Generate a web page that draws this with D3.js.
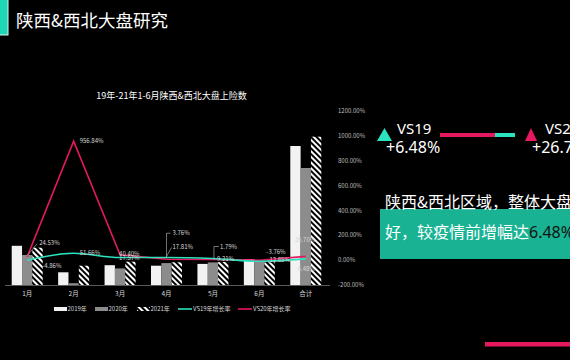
<!DOCTYPE html>
<html>
<head>
<meta charset="utf-8">
<script src="https://cdn.jsdelivr.net/npm/d3@7"></script>
<style>
  body { margin: 0; background: #000; overflow: hidden; }
  svg { display: block; font-family: "Noto Sans CJK SC", "Noto Sans", sans-serif; }
</style>
</head>
<body>
<svg id="chart" width="570" height="360"></svg>
<script>
// chart data
const months = ['1月', '2月', '3月', '4月', '5月', '6月', '合计'];
const cars2019 = [3920, 1270, 1980, 1930, 2110, 2600, 13900];
const cars2020 = [3000, 180, 1660, 2190, 2260, 2360, 11700];
const cars2021 = [3730, 1930, 2330, 2270, 2300, 2270, 14830];
const growthVs19 = [-4.86, 51.66, 17.57, 17.81, 9.21, -12.85, 6.48];
const growthVs20 = [24.53, 956.84, 40.40, 3.76, 1.79, -3.76, 26.70];
const rightTicks = [-200, 0, 200, 400, 600, 800, 1000, 1200];
const seriesNames = ['2019年', '2020年', '2021年', 'VS19年增长率', 'VS20年增长率'];

const teal = '#2ce3bf';
const pink = '#e5195f';

// where excel pushed the data labels (dx, dy from the point)
const nudge19 = [[15, 5.5], [6, 0], [-1, 0], [6, -11], [4, 0], [8, -1], [-8, 10]];
const nudge20 = [[12, -14], [6, 0], [-1, -1], [6, -26], [7, -13], [7, -8], [-11, -17]];

const svg = d3.select('#chart');

// page title
svg.append('rect').attr('x', -2).attr('y', -2).attr('width', 10).attr('height', 37)
  .attr('fill', '#1fd6b6').attr('stroke', '#d8f5ee').attr('stroke-width', 1);
svg.append('text').attr('x', 16).attr('y', 27).attr('fill', '#fff')
  .style('font-size', '17.5px').text('陕西&西北大盘研究');

// hatch pattern for 2021
const defs = svg.append('defs');
const pat = defs.append('pattern').attr('id', 'hatch').attr('patternUnits', 'userSpaceOnUse')
  .attr('width', 4).attr('height', 4).attr('patternTransform', 'rotate(-45)');
pat.append('rect').attr('width', 4).attr('height', 4).attr('fill', '#000');
pat.append('line').attr('x1', 1).attr('y1', 0).attr('x2', 1).attr('y2', 4)
  .attr('stroke', '#fff').attr('stroke-width', 2);

const x = d3.scaleBand().domain(months).range([4, 329]);
const xSub = d3.scaleBand().domain([0, 1, 2]).range([0, 31]);
const yBar = d3.scaleLinear().domain([0, 17400]).range([285, 111]);
const yR = d3.scaleLinear().domain([-200, 1200]).range([284.5, 111]);
const groupLeft = m => x(m) + (x.bandwidth() - 31) / 2;
const cx = m => x(m) + x.bandwidth() / 2;

// chart title
svg.append('text').attr('x', 171.5).attr('y', 99).attr('text-anchor', 'middle')
  .attr('fill', '#fff').style('font-size', '9px').text('19年-21年1-6月陕西&西北大盘上险数');

// bars
const barFills = ['#f2f2f2', '#8c8c8c', 'url(#hatch)'];
[cars2019, cars2020, cars2021].forEach(function(vals, s) {
  svg.append('g').selectAll('rect')
    .data(vals)
    .join('rect')
      .attr('x', (d, i) => groupLeft(months[i]) + xSub(s))
      .attr('y', d => yBar(d))
      .attr('width', xSub.bandwidth())
      .attr('height', d => yBar(0) - yBar(d))
      .attr('fill', barFills[s]);
});

// x axis
const gx = svg.append('g').attr('transform', 'translate(0,285)')
  .call(d3.axisBottom(x).tickSize(0).tickPadding(6));
gx.select('.domain').attr('stroke', '#595959').attr('d', 'M5,0.5H330');
gx.selectAll('text').attr('fill', '#d9d9d9').style('font-size', '6.5px')
  .style('font-family', '"Noto Sans CJK SC", sans-serif');

// right axis
const gy = svg.append('g').attr('transform', 'translate(332,0)')
  .call(d3.axisRight(yR).tickValues(rightTicks).tickSize(0).tickPadding(6)
    .tickFormat(d => d.toFixed(2) + '%'));
gy.select('.domain').remove();
gy.selectAll('text').attr('fill', '#bfbfbf').style('font-size', '6px')
  .style('font-family', '"Noto Sans CJK SC", sans-serif');

// growth lines
const line = d3.line().x((d, i) => cx(months[i])).y(d => yR(d));
svg.append('path').datum(growthVs20).attr('d', line)
  .attr('fill', 'none').attr('stroke', pink).attr('stroke-width', 1.6);
svg.append('path').datum(growthVs19).attr('d', line.curve(d3.curveMonotoneX))
  .attr('fill', 'none').attr('stroke', teal).attr('stroke-width', 1.6);

// leader lines for the labels that got moved away
const leaders = [
  [[cx('1月'), yR(growthVs20[0]) - 1], [cx('1月') + 10, yR(growthVs20[0]) - 13]],
  [[cx('4月'), yR(growthVs20[3]) - 1], [cx('4月'), yR(growthVs20[3]) - 26], [cx('4月') + 4, yR(growthVs20[3]) - 26]],
  [[cx('4月'), yR(growthVs19[3]) - 1], [cx('4月') + 5, yR(growthVs19[3]) - 10]],
  [[cx('5月') + 1, yR(growthVs20[4])], [cx('5月') + 1, yR(growthVs20[4]) - 13], [cx('5月') + 6, yR(growthVs20[4]) - 13]]
];
leaders.forEach(function(pts) {
  svg.append('path').attr('d', d3.line()(pts)).attr('fill', 'none')
    .attr('stroke', '#bfbfbf').attr('stroke-width', 0.6);
});

// data labels
function labels(vals, nudge) {
  svg.append('g').selectAll('text')
    .data(vals)
    .join('text')
      .attr('x', (d, i) => cx(months[i]) + nudge[i][0])
      .attr('y', (d, i) => yR(d) + nudge[i][1])
      .attr('dy', '0.35em')
      .attr('fill', '#d9d9d9')
      .style('font-size', '6px')
      .text(d => d.toFixed(2) + '%');
}
labels(growthVs20, nudge20);
labels(growthVs19, nudge19);

// legend
const legendX = [54, 95, 137, 178, 238];
const lg = svg.append('g');
seriesNames.forEach(function(name, i) {
  if (i < 3) {
    lg.append('rect').attr('x', legendX[i]).attr('y', 307).attr('width', 13).attr('height', 4)
      .attr('fill', barFills[i]);
  } else {
    lg.append('line').attr('x1', legendX[i]).attr('x2', legendX[i] + 14)
      .attr('y1', 309).attr('y2', 309)
      .attr('stroke', i == 3 ? teal : pink).attr('stroke-width', 1.6);
  }
  lg.append('text').attr('x', legendX[i] + (i < 3 ? 13.5 : 15)).attr('y', 309)
    .attr('dy', '0.35em').attr('fill', '#d9d9d9').style('font-size', '6px').text(name);
});

// right side summary
svg.append('path').attr('d', 'M377,141L384.5,128L392,141Z').attr('fill', teal);
svg.append('text').attr('x', 397).attr('y', 134).attr('fill', '#fff').style('font-size', '15px')
  .style('font-family', '"Noto Sans", sans-serif').text('VS19');
svg.append('text').attr('x', 386).attr('y', 152.5).attr('fill', '#fff').style('font-size', '16px')
  .style('font-family', '"Noto Sans", sans-serif').text('+' + growthVs19[6].toFixed(2) + '%');

svg.append('rect').attr('x', 440).attr('y', 133).attr('width', 55).attr('height', 4).attr('fill', pink);
svg.append('rect').attr('x', 495).attr('y', 133).attr('width', 20).attr('height', 4).attr('fill', teal);

svg.append('path').attr('d', 'M525,141L531,128L537,141Z').attr('fill', pink);
svg.append('text').attr('x', 545).attr('y', 134).attr('fill', '#fff').style('font-size', '15px')
  .style('font-family', '"Noto Sans", sans-serif').text('VS20');
svg.append('text').attr('x', 532).attr('y', 152.5).attr('fill', '#fff').style('font-size', '16px')
  .style('font-family', '"Noto Sans", sans-serif').text('+' + growthVs20[6].toFixed(2) + '%');

svg.append('rect').attr('x', 380).attr('y', 209).attr('width', 200).attr('height', 50).attr('fill', '#19b394');
svg.append('text').attr('x', 385).attr('y', 208).attr('fill', '#fff').style('font-size', '16px')
  .text('陕西&西北区域，整体大盘');
const t2 = svg.append('text').attr('x', 385).attr('y', 237.5).attr('fill', '#fff').style('font-size', '16px');
t2.append('tspan').text('好，较疫情前增幅达');
t2.append('tspan').attr('fill', '#111').style('font-family', '"Noto Sans", sans-serif')
  .text(growthVs19[6].toFixed(2) + '%');

svg.append('rect').attr('x', 485).attr('y', 342).attr('width', 90).attr('height', 4.5).attr('fill', pink);
</script>
</body>
</html>
